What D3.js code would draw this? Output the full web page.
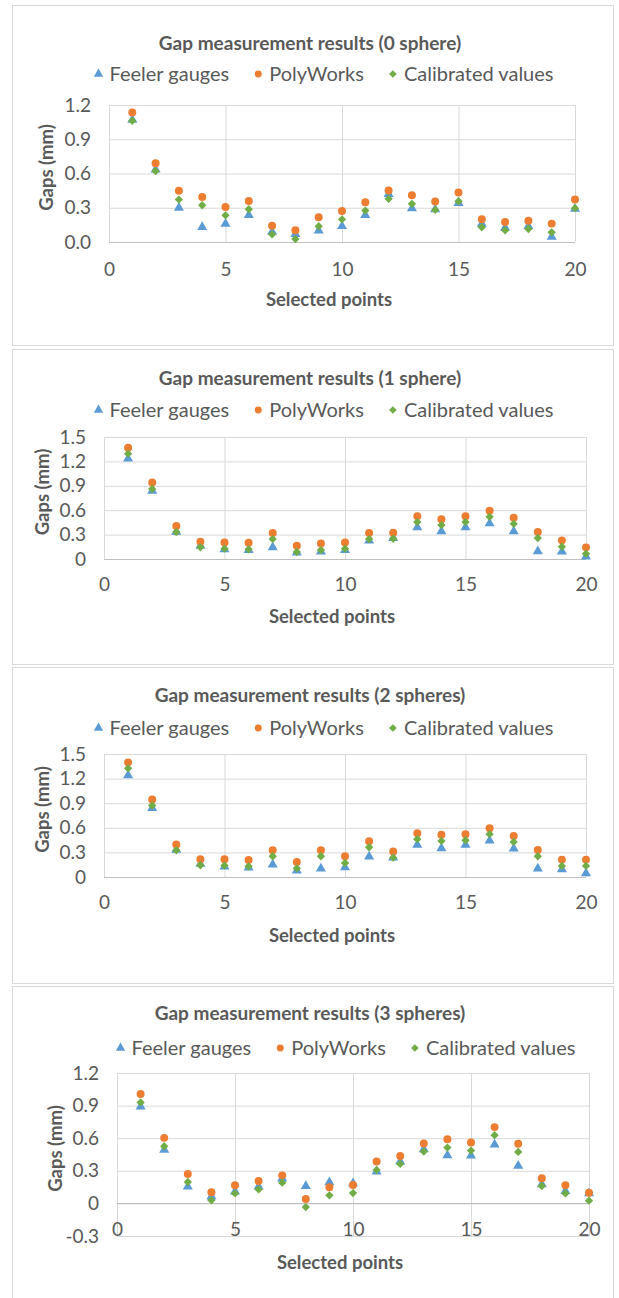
<!DOCTYPE html>
<html>
<head>
<meta charset="utf-8">
<script src="https://cdn.jsdelivr.net/npm/d3@7"></script>
<style>
  body { margin: 0; background: #fff; }
  svg { display: block; font-family: Lato, "Open Sans", sans-serif; }
</style>
</head>
<body>
<svg id="chart" width="619" height="1298"></svg>
<script>
// ---- data ----
const pointIds = [1, 2, 3, 4, 5, 6, 7, 8, 9, 10, 11, 12, 13, 14, 15, 16, 17, 18, 19, 20];
const seriesNames = ['Feeler gauges', 'PolyWorks', 'Calibrated values'];
const panelTitles = [
  'Gap measurement results (0 sphere)',
  'Gap measurement results (1 sphere)',
  'Gap measurement results (2 spheres)',
  'Gap measurement results (3 spheres)'
];
const xTicks = [0, 5, 10, 15, 20];
const yTicks0 = [0, 0.3, 0.6, 0.9, 1.2];
const yTicks1 = [0, 0.3, 0.6, 0.9, 1.2, 1.5];
const yTicks2 = [0, 0.3, 0.6, 0.9, 1.2, 1.5];
const yTicks3 = [-0.3, 0, 0.3, 0.6, 0.9, 1.2];

// 0 sphere
const feeler0     = [1.07, 0.635, 0.30, 0.13, 0.16, 0.235, 0.09, 0.07, 0.10, 0.14, 0.235, 0.42, 0.295, 0.285, 0.34, 0.16, 0.125, 0.14, 0.045, 0.29];
const polyworks0  = [1.135, 0.69, 0.448, 0.395, 0.307, 0.36, 0.143, 0.102, 0.217, 0.272, 0.348, 0.451, 0.41, 0.354, 0.433, 0.199, 0.176, 0.187, 0.161, 0.372];
const calibrated0 = [1.062, 0.62, 0.372, 0.322, 0.234, 0.287, 0.067, 0.026, 0.138, 0.199, 0.275, 0.378, 0.334, 0.281, 0.357, 0.129, 0.102, 0.114, 0.085, 0.296];

// 1 sphere
const feeler1     = [1.234, 0.838, 0.335, 0.163, 0.119, 0.11, 0.143, 0.078, 0.09, 0.11, 0.225, 0.257, 0.388, 0.339, 0.388, 0.437, 0.339, 0.094, 0.09, 0.03];
const polyworks1  = [1.369, 0.94, 0.405, 0.213, 0.204, 0.20, 0.319, 0.163, 0.192, 0.204, 0.319, 0.323, 0.527, 0.49, 0.527, 0.593, 0.507, 0.331, 0.229, 0.143];
const calibrated1 = [1.295, 0.862, 0.331, 0.143, 0.127, 0.119, 0.245, 0.086, 0.11, 0.127, 0.245, 0.249, 0.454, 0.417, 0.454, 0.519, 0.433, 0.257, 0.151, 0.065];

// 2 spheres
const feeler2     = [1.239, 0.84, 0.33, 0.159, 0.126, 0.114, 0.151, 0.077, 0.102, 0.118, 0.249, 0.236, 0.391, 0.351, 0.391, 0.444, 0.347, 0.102, 0.094, 0.045];
const polyworks2  = [1.398, 0.946, 0.395, 0.216, 0.216, 0.208, 0.326, 0.183, 0.326, 0.253, 0.436, 0.31, 0.534, 0.514, 0.522, 0.595, 0.501, 0.33, 0.212, 0.212];
const calibrated2 = [1.325, 0.872, 0.326, 0.143, 0.139, 0.13, 0.253, 0.106, 0.253, 0.171, 0.363, 0.236, 0.461, 0.44, 0.448, 0.522, 0.428, 0.253, 0.135, 0.135];

// 3 spheres
const feeler3     = [0.892, 0.492, 0.154, 0.062, 0.108, 0.154, 0.228, 0.16, 0.194, 0.185, 0.292, 0.385, 0.498, 0.443, 0.44, 0.542, 0.345, 0.175, 0.114, 0.092];
const polyworks3  = [1.006, 0.603, 0.271, 0.102, 0.166, 0.206, 0.258, 0.04, 0.148, 0.169, 0.385, 0.437, 0.551, 0.591, 0.56, 0.702, 0.548, 0.231, 0.166, 0.098];
const calibrated3 = [0.929, 0.526, 0.197, 0.028, 0.092, 0.129, 0.191, -0.034, 0.074, 0.095, 0.308, 0.363, 0.477, 0.514, 0.486, 0.628, 0.474, 0.16, 0.092, 0.025];

// ---- layout ----
const colors = ['#5B9BD5', '#ED7D31', '#70AD47'];
const textColor = '#595959';
const gridColor = '#d9d9d9';
const fontFamily = 'Lato, sans-serif';

// Excel-style numbers: plain hyphen for the minus sign
const locale = d3.formatLocale({ decimal: '.', thousands: ',', grouping: [3], currency: ['', ''], minus: '-' });
const fmt1 = locale.format('.1f');
const fmtTick = d => d === 0 ? '0' : fmt1(d);

const panels = [
  { title: panelTitles[0], series: [feeler0, polyworks0, calibrated0], yTicks: yTicks0, fmt: fmt1,
    box: [5, 345], plot: { left: 109, right: 575, top: 105, bottom: 242 }, titleY: 42, legendY: 73, legendX: 322,
    tickY: 269, xTitleY: 299, yTitleX: 46 },
  { title: panelTitles[1], series: [feeler1, polyworks1, calibrated1], yTicks: yTicks1, fmt: fmtTick,
    box: [349, 664], plot: { left: 104, right: 586, top: 437, bottom: 559 }, titleY: 377, legendY: 409, legendX: 322,
    tickY: 584, xTitleY: 616, yTitleX: 42 },
  { title: panelTitles[2], series: [feeler2, polyworks2, calibrated2], yTicks: yTicks2, fmt: fmtTick,
    box: [667, 983], plot: { left: 104, right: 586, top: 754, bottom: 877 }, titleY: 694, legendY: 727, legendX: 322,
    tickY: 902, xTitleY: 935, yTitleX: 42 },
  { title: panelTitles[3], series: [feeler3, polyworks3, calibrated3], yTicks: yTicks3, fmt: fmtTick,
    box: [986, 1310], plot: { left: 117, right: 589, top: 1073, bottom: 1236 }, titleY: 1012, legendY: 1047, legendX: 344,
    tickY: 1229, xTitleY: 1262, yTitleX: 55 }
];

const svg = d3.select('#chart');

const symbols = [d3.symbolTriangle, d3.symbolCircle, d3.symbolDiamond2];
const symbolSizes = [44, 50, 44];

panels.forEach(p => {
  const g = svg.append('g');

  // Chart border
  g.append('rect')
    .attr('x', 12.5).attr('y', p.box[0] + 0.5)
    .attr('width', 601).attr('height', p.box[1] - p.box[0])
    .attr('fill', '#fff')
    .attr('stroke', gridColor);

  const x = d3.scaleLinear().domain([0, 20]).range([p.plot.left, p.plot.right]);
  const y = d3.scaleLinear().domain(d3.extent(p.yTicks)).range([p.plot.bottom, p.plot.top]);

  // Horizontal gridlines
  g.append('g')
    .attr('transform', `translate(${p.plot.left},0)`)
    .call(d3.axisLeft(y).tickValues(p.yTicks).tickSize(-(p.plot.right - p.plot.left)).tickFormat(''))
    .call(a => a.select('.domain').remove())
    .call(a => a.selectAll('.tick line').attr('stroke', gridColor));

  // Vertical gridlines
  g.append('g')
    .attr('transform', `translate(0,${p.plot.bottom})`)
    .call(d3.axisBottom(x).tickValues(xTicks).tickSize(-(p.plot.bottom - p.plot.top)).tickFormat(''))
    .call(a => a.select('.domain').remove())
    .call(a => a.selectAll('.tick line').attr('stroke', gridColor));

  // X axis line at y = 0
  g.append('line')
    .attr('x1', p.plot.left).attr('x2', p.plot.right)
    .attr('y1', Math.round(y(0)) + 0.5).attr('y2', Math.round(y(0)) + 0.5)
    .attr('stroke', '#bfbfbf');

  // Y tick labels
  g.append('g')
    .attr('transform', `translate(${p.plot.left - 18},0)`)
    .call(d3.axisLeft(y).tickValues(p.yTicks).tickSize(0).tickPadding(0).tickFormat(p.fmt))
    .call(a => a.select('.domain').remove())
    .call(a => a.selectAll('.tick text')
      .attr('fill', textColor)
      .attr('font-size', '19px')
      .attr('font-family', fontFamily));

  // X tick labels
  g.append('g')
    .attr('transform', `translate(0,${p.tickY})`)
    .call(d3.axisBottom(x).tickValues(xTicks).tickSize(0).tickPadding(0))
    .call(a => a.select('.domain').remove())
    .call(a => a.selectAll('.tick text')
      .attr('fill', textColor)
      .attr('font-size', '19px')
      .attr('font-family', fontFamily)
      .attr('dy', '0.35em')
      .attr('y', 0));

  // Title
  g.append('text')
    .attr('x', 310).attr('y', p.titleY)
    .attr('text-anchor', 'middle').attr('dominant-baseline', 'central')
    .attr('fill', textColor).attr('font-size', '19px').attr('font-weight', 700)
    .text(p.title);

  // Axis titles
  g.append('text')
    .attr('x', (p.plot.left + p.plot.right) / 2 - 13).attr('y', p.xTitleY)
    .attr('text-anchor', 'middle').attr('dominant-baseline', 'central')
    .attr('fill', textColor).attr('font-size', '18.5px').attr('font-weight', 700)
    .text('Selected points');

  g.append('text')
    .attr('transform', `translate(${p.yTitleX},${(p.plot.top + p.plot.bottom) / 2 - 6}) rotate(-90)`)
    .attr('text-anchor', 'middle').attr('dominant-baseline', 'central')
    .attr('fill', textColor).attr('font-size', '18.5px').attr('font-weight', 700)
    .text('Gaps (mm)');

  // Legend
  const leg = g.append('g');
  let cx = 0;
  seriesNames.forEach((name, i) => {
    const item = leg.append('g').attr('transform', `translate(${cx},0)`);
    item.append('path')
      .attr('d', d3.symbol().type(symbols[i]).size(38)())
      .attr('transform', 'translate(0,1)')
      .attr('fill', colors[i]);
    const t = item.append('text')
      .attr('x', 11).attr('y', 0)
      .attr('dominant-baseline', 'central')
      .attr('fill', textColor).attr('font-size', '20px')
      .text(name);
    cx += 11 + t.node().getComputedTextLength() + 29;
  });
  const legW = cx - 29;
  leg.attr('transform', `translate(${p.legendX - legW / 2 + 4},${p.legendY})`);

  // Points
  p.series.forEach((vals, i) => {
    g.append('g')
      .selectAll('path')
      .data(pointIds.map((id, k) => ({ id, v: vals[k] })))
      .enter()
      .append('path')
      .attr('d', d3.symbol().type(symbols[i]).size(symbolSizes[i])())
      .attr('transform', d => `translate(${x(d.id)},${y(d.v)})`)
      .attr('fill', colors[i]);
  });
});
</script>
</body>
</html>
